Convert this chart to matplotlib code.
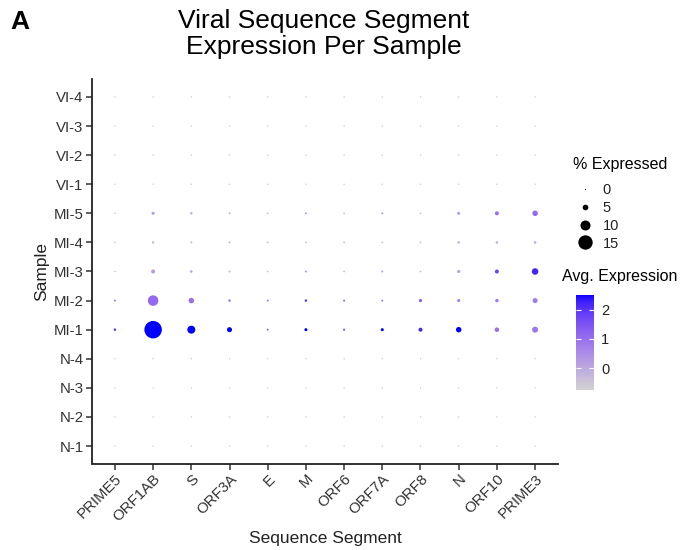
import numpy as np
import matplotlib
matplotlib.use("Agg")
import matplotlib.pyplot as plt
from matplotlib.colors import LinearSegmentedColormap, Normalize
from matplotlib.lines import Line2D
import matplotlib.cm as cm

plt.rcParams['font.family'] = ['Liberation Sans', 'DejaVu Sans']

# ---------------- data ----------------
segments = ["PRIME5", "ORF1AB", "S", "ORF3A", "E", "M", "ORF6", "ORF7A",
            "ORF8", "N", "ORF10", "PRIME3"]
samples = ["N-1", "N-2", "N-3", "N-4", "MI-1", "MI-2", "MI-3", "MI-4",
           "MI-5", "VI-1", "VI-2", "VI-3", "VI-4"]

pct_N1 = [0, 0, 0, 0, 0, 0, 0, 0, 0, 0, 0, 0]
pct_N2 = [0, 0, 0, 0, 0, 0, 0, 0, 0, 0, 0, 0]
pct_N3 = [0, 0, 0, 0, 0, 0, 0, 0, 0, 0, 0, 0]
pct_N4 = [0, 0, 0, 0, 0, 0, 0, 0, 0, 0, 0, 0]
pct_MI1 = [1.4, 18.6, 7.7, 4.3, 0.8, 2.0, 1.2, 2.0, 3.1, 4.8, 3.7, 5.4]
pct_MI2 = [0.8, 10.6, 4.8, 1.4, 0.8, 1.4, 0.8, 0.8, 2.0, 2.0, 2.5, 4.3]
pct_MI3 = [0.2, 3.1, 1.4, 0.8, 0.5, 0.8, 0.5, 0.8, 0.5, 2.0, 3.1, 6.0]
pct_MI4 = [0.2, 1.0, 0.8, 0.8, 0.5, 0.5, 0.5, 0.5, 0.5, 1.4, 1.4, 1.4]
pct_MI5 = [0.2, 2.0, 1.4, 0.8, 0.5, 0.8, 0.5, 0.8, 0.5, 2.0, 3.1, 4.8]
pct_VI1 = [0, 0, 0, 0, 0, 0, 0, 0, 0, 0, 0, 0]
pct_VI2 = [0, 0, 0, 0, 0, 0, 0, 0, 0, 0, 0, 0]
pct_VI3 = [0, 0, 0, 0, 0, 0, 0, 0, 0, 0, 0, 0]
pct_VI4 = [0, 0, 0, 0, 0, 0, 0, 0, 0, 0, 0, 0]

avg_N1 = [-0.35] * 12
avg_N2 = [-0.35] * 12
avg_N3 = [-0.35] * 12
avg_N4 = [-0.35] * 12
avg_MI1 = [2.0, 2.5, 2.5, 2.5, 1.2, 2.5, 1.2, 2.5, 2.2, 2.5, 1.0, 0.9]
avg_MI2 = [0.8, 1.1, 1.0, 1.0, 0.8, 2.0, 1.2, 0.9, 1.5, 0.8, 0.8, 0.8]
avg_MI3 = [-0.3, 0.3, 0.2, -0.2, -0.4, 0.4, -0.2, 0.2, -0.3, 0.3, 1.8, 2.2]
avg_MI4 = [-0.3, 0.0, -0.2, -0.2, -0.2, -0.2, -0.2, -0.2, -0.3, -0.1, -0.1, 0.0]
avg_MI5 = [-0.3, 0.3, -0.1, -0.2, -0.3, 0.3, -0.4, 0.2, -0.4, 0.3, 1.0, 1.1]
avg_VI1 = [-0.35] * 12
avg_VI2 = [-0.35] * 12
avg_VI3 = [-0.35] * 12
avg_VI4 = [-0.35] * 12

pct_rows = [pct_N1, pct_N2, pct_N3, pct_N4, pct_MI1, pct_MI2, pct_MI3,
            pct_MI4, pct_MI5, pct_VI1, pct_VI2, pct_VI3, pct_VI4]
avg_rows = [avg_N1, avg_N2, avg_N3, avg_N4, avg_MI1, avg_MI2, avg_MI3,
            avg_MI4, avg_MI5, avg_VI1, avg_VI2, avg_VI3, avg_VI4]

size_breaks = [0, 5, 10, 15]
color_breaks = [0, 1, 2]
color_min, color_max = -0.75, 2.5

# ------------- Lab-interpolated colormap (lightgrey -> blue) -------------
def srgb_to_lab(rgb):
    rgb = np.asarray(rgb, float)
    lin = np.where(rgb <= 0.04045, rgb / 12.92, ((rgb + 0.055) / 1.055) ** 2.4)
    M = np.array([[0.4124, 0.3576, 0.1805],
                  [0.2126, 0.7152, 0.0722],
                  [0.0193, 0.1192, 0.9505]])
    xyz = M @ lin
    wp = np.array([0.95047, 1.0, 1.08883])
    t = xyz / wp
    f = np.where(t > (6/29) ** 3, np.cbrt(t), t / (3 * (6/29) ** 2) + 4/29)
    return np.array([116 * f[1] - 16, 500 * (f[0] - f[1]), 200 * (f[1] - f[2])])

def lab_to_srgb(lab):
    L, a, b = lab
    fy = (L + 16) / 116
    fx = fy + a / 500
    fz = fy - b / 200
    f = np.array([fx, fy, fz])
    t = np.where(f > 6/29, f ** 3, 3 * (6/29) ** 2 * (f - 4/29))
    wp = np.array([0.95047, 1.0, 1.08883])
    xyz = t * wp
    Minv = np.array([[3.2406, -1.5372, -0.4986],
                     [-0.9689, 1.8758, 0.0415],
                     [0.0557, -0.2040, 1.0570]])
    lin = np.clip(Minv @ xyz, 0, 1)
    rgb = np.where(lin <= 0.0031308, 12.92 * lin, 1.055 * lin ** (1/2.4) - 0.055)
    return np.clip(rgb, 0, 1)

c_low = srgb_to_lab([211/255, 211/255, 211/255])
c_high = srgb_to_lab([0, 0, 1])
cols = [lab_to_srgb(c_low + (c_high - c_low) * t) for t in np.linspace(0, 1, 256)]
cmap = LinearSegmentedColormap.from_list("grey_blue", cols)
norm = Normalize(vmin=color_min, vmax=color_max)

PX2PT = 72 / 100.0
def size_pts2(p):
    d_px = 1.3 + 0.87 * np.asarray(p, float)
    return (d_px * PX2PT) ** 2

# ---------------- figure ----------------
fig = plt.figure(figsize=(6.82, 5.5), dpi=100)
ax = fig.add_axes([92/682, (550-463.5)/550, (558-92)/682, (463.5-79.5)/550])

xs, ys, ss, cs = [], [], [], []
for i, s in enumerate(samples):
    for j, g in enumerate(segments):
        xs.append(j); ys.append(i)
        ss.append(pct_rows[i][j]); cs.append(avg_rows[i][j])

order = np.argsort(ss)
xs = np.array(xs)[order]; ys = np.array(ys)[order]
ss = np.array(ss)[order]; cs = np.array(cs)[order]
ax.scatter(xs, ys, s=size_pts2(ss), c=cs, cmap=cmap, norm=norm, linewidths=0)

ax.set_xlim(-0.6, len(segments) - 0.4)
ax.set_ylim(-0.6, len(samples) - 0.4)
ax.set_xticks(range(len(segments)))
ax.set_xticklabels(segments, rotation=45, ha='right', rotation_mode='anchor')
ax.set_yticks(range(len(samples)))
ax.set_yticklabels(samples)
for sp in ['top', 'right']:
    ax.spines[sp].set_visible(False)
for sp in ['left', 'bottom']:
    ax.spines[sp].set_linewidth(1.3)
    ax.spines[sp].set_color('#222222')
ax.tick_params(axis='both', length=4, width=1.1, color='#333333',
               labelsize=10.8, labelcolor='#333333', pad=2)
ax.set_xlabel("Sequence Segment", fontsize=12.5, color='#222222', labelpad=5)
ax.set_ylabel("Sample", fontsize=12.5, color='#222222', labelpad=3)

fig.text(324/682, 1 - 34/550, "Viral Sequence Segment\nExpression Per Sample",
         ha='center', va='center', fontsize=19, linespacing=1.14)
fig.text(10/682, 1 - 22/550, "A", ha='left', va='center', fontsize=19,
         fontweight='bold')

# size legend
fig.text(573/682, 1 - 165/550, "% Expressed", ha='left', va='center',
         fontsize=11.5)
handles = [Line2D([], [], linestyle='none', marker='o', color='black',
                  markeredgewidth=0, markersize=np.sqrt(size_pts2(b)))
           for b in size_breaks]
leg = fig.legend(handles, [str(b) for b in size_breaks], loc='upper left',
                 bbox_to_anchor=(566/682, 1 - 173/550), frameon=False,
                 fontsize=10.5, handlelength=1.2, handletextpad=0.6,
                 labelspacing=0.26, borderpad=0.2)
for t in leg.get_texts():
    t.set_color('#222222')

# colorbar legend
fig.text(562/682, 1 - 276/550, "Avg. Expression", ha='left', va='center',
         fontsize=11.5)
cax = fig.add_axes([576/682, (550-390)/550, 18/682, 95/550])
cb = fig.colorbar(cm.ScalarMappable(norm=norm, cmap=cmap), cax=cax,
                  ticks=color_breaks)
cb.outline.set_visible(False)
cax.tick_params(axis='y', direction='in', length=3.5, width=0.8,
                color='white', labelsize=10.5, labelcolor='#222222', pad=5,
                left=True, right=True)

fig.savefig("out.png", dpi=100)
